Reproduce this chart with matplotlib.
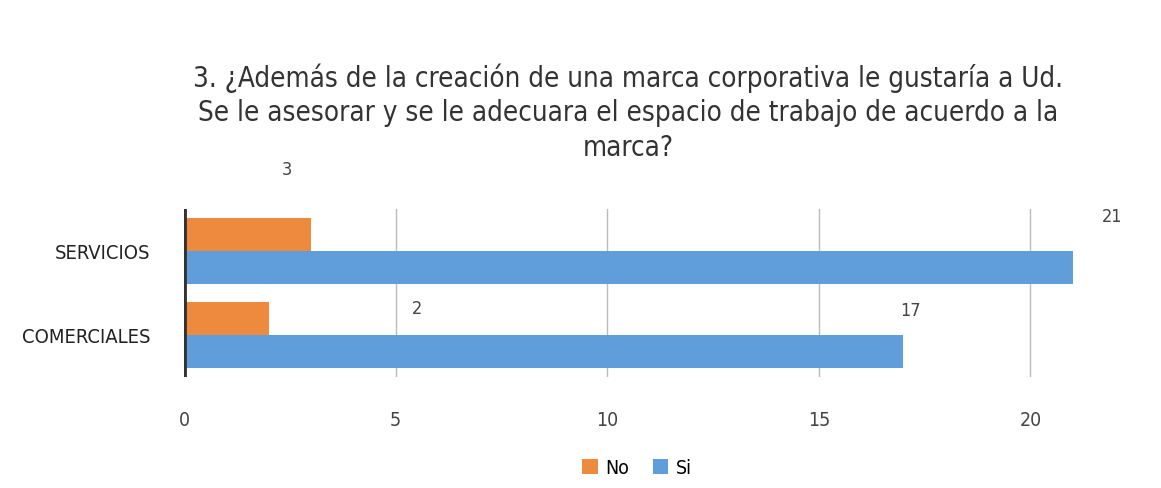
import matplotlib.pyplot as plt
from matplotlib import font_manager
import numpy as np

# buscar una fuente estrecha (el original usa una tipografía condensada)
estrechas = [f for f in font_manager.fontManager.ttflist
             if (f.stretch in ('condensed', 'semi-condensed', 'extra-condensed')
                 or 'Condensed' in f.name or 'Narrow' in f.name)
             and f.style == 'normal']
estrechas.sort(key=lambda f: abs(int(f.weight) - 400) if str(f.weight).isdigit() else 100)
if estrechas:
    elegida = estrechas[0]
    plt.rcParams['font.family'] = [elegida.name, 'DejaVu Sans']
    plt.rcParams['font.stretch'] = elegida.stretch
    plt.rcParams['font.weight'] = elegida.weight
else:
    plt.rcParams['font.family'] = ['DejaVu Sans']

categorias = ['COMERCIALES', 'SERVICIOS']
no_vals = [2, 3]
si_vals = [17, 21]
titulo = ('3. ¿Además de la creación de una marca corporativa le gustaría a Ud.\n'
          'Se le asesorar y se le adecuara el espacio de trabajo de acuerdo a la\n'
          'marca?')

naranja = '#EE8A3E'
azul = '#5F9EDB'

fig = plt.figure(figsize=(11.61, 4.89), dpi=100)
ax = fig.add_axes([0.1585, 0.227, 0.7655, 0.344])

y = np.arange(len(categorias))
h = 0.39
ax.barh(y + h / 2, no_vals, height=h, color=naranja, label='No', zorder=2)
ax.barh(y - h / 2, si_vals, height=h, color=azul, label='Si', zorder=2)

# etiquetas de datos: desplazamientos tal como aparecen en la hoja original
desp_no = [(3.51, 0.32), (-0.57, 0.97)]
desp_si = [(0.16, 0.30), (0.94, 0.41)]
for yi, v, (dx, dy) in zip(y, no_vals, desp_no):
    ax.text(v + dx, yi + dy, str(v), fontsize=13, color='#444444',
            ha='center', va='center', clip_on=False)
for yi, v, (dx, dy) in zip(y, si_vals, desp_si):
    ax.text(v + dx, yi + dy, str(v), fontsize=13, color='#444444',
            ha='center', va='center', clip_on=False)

ax.set_xlim(0, 21)
ax.set_ylim(-0.5, 1.5)
ax.set_xticks([0, 5, 10, 15, 20])
ax.set_yticks(y)
ax.set_yticklabels(categorias, fontsize=14.5, color='#222222')
ax.tick_params(axis='x', labelsize=14, colors='#444444', length=0, pad=24)
ax.tick_params(axis='y', length=0, pad=24)
ax.grid(axis='x', color='#bbbbbb', linewidth=1, zorder=0)
ax.axvline(0, color='#333333', linewidth=3.5, zorder=3)
for s in ax.spines.values():
    s.set_visible(False)

t = fig.text(0.541, 0.77, titulo, ha='center', va='center', fontsize=25,
             color='#333333', linespacing=1.3)
# ajustar el tamaño para que la primera línea ocupe ~872 px como en el original
fig.canvas.draw()
ancho = t.get_window_extent().width
t.set_fontsize(25 * 872 / ancho)

ax.legend(loc='center', bbox_to_anchor=(0.51, -0.54), ncol=2, frameon=False,
          fontsize=14, handlelength=0.8, handleheight=0.8, handletextpad=0.4,
          columnspacing=1.2)

fig.savefig('out.png', dpi=100)
